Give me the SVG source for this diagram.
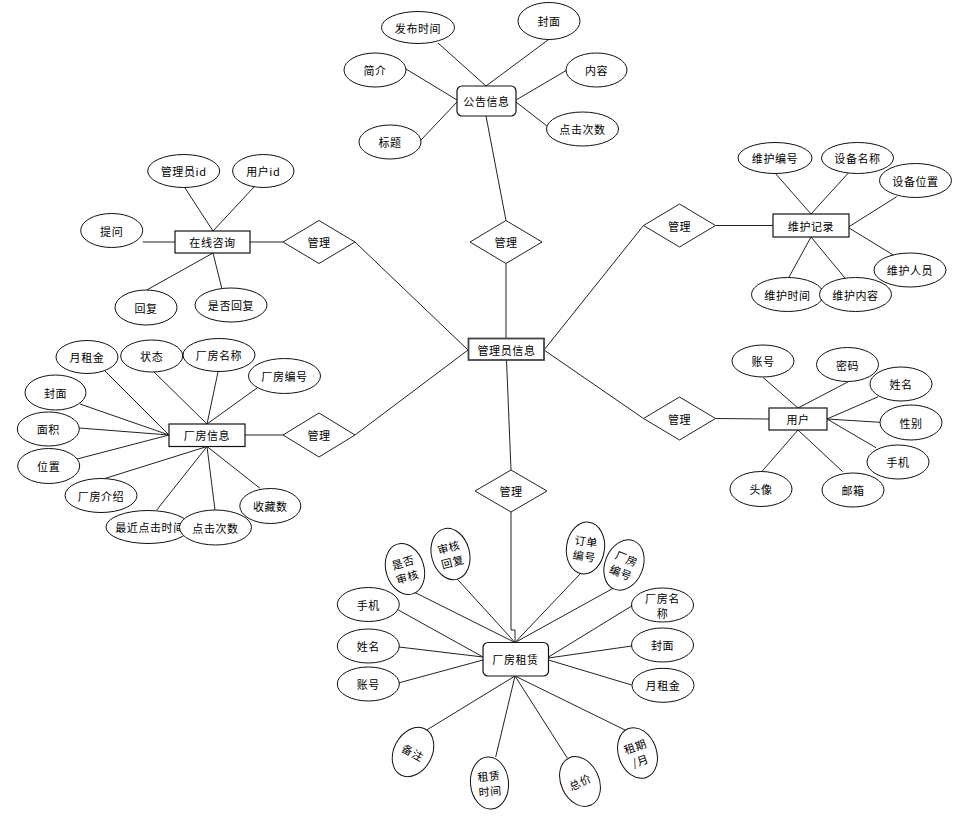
<svg xmlns="http://www.w3.org/2000/svg" width="962" height="826" viewBox="0 0 962 826">
<style>
.e{fill:#fff;stroke:#111;stroke-width:1}
.r{fill:#fff;stroke:#111;stroke-width:1.2}
.d{fill:#fff;stroke:#222;stroke-width:1}
.c{fill:none;stroke:#222;stroke-width:1}
.t{font-family:"Noto Sans CJK SC","Liberation Sans",sans-serif;font-size:11px;text-anchor:middle;dominant-baseline:central;letter-spacing:0.6px;fill:#000}
</style>
<rect width="962" height="826" fill="#fff"/>
<g id="connectors" class="c">
<!-- 公告信息 -->
<line x1="438" y1="43" x2="486" y2="86"/>
<line x1="548" y1="40" x2="486" y2="86"/>
<line x1="406" y1="69" x2="457" y2="100"/>
<line x1="567" y1="70" x2="516" y2="100"/>
<line x1="421" y1="140" x2="457" y2="102"/>
<line x1="547" y1="126" x2="516" y2="102"/>
<line x1="486" y1="116" x2="506" y2="220.5"/>
<line x1="506" y1="263.5" x2="506" y2="338"/>
<!-- 在线咨询 -->
<line x1="185" y1="188" x2="213" y2="231"/>
<line x1="254" y1="187" x2="213" y2="231"/>
<line x1="142.7" y1="242" x2="175" y2="242"/>
<line x1="146.7" y1="290" x2="213" y2="253"/>
<line x1="221.7" y1="288" x2="213" y2="253"/>
<line x1="250" y1="242" x2="283" y2="242"/>
<line x1="355" y1="242" x2="468" y2="350"/>
<!-- 厂房信息 -->
<line x1="103" y1="369" x2="169" y2="435"/>
<line x1="153" y1="371" x2="207" y2="424"/>
<line x1="218" y1="372" x2="207" y2="424"/>
<line x1="257" y1="388" x2="207" y2="424"/>
<line x1="80" y1="404" x2="169" y2="435"/>
<line x1="79.3" y1="428" x2="169" y2="435"/>
<line x1="73.3" y1="460" x2="169" y2="435"/>
<line x1="100" y1="480" x2="207" y2="446.5"/>
<line x1="156.7" y1="510" x2="207" y2="446.5"/>
<line x1="215" y1="510" x2="207" y2="446.5"/>
<line x1="260" y1="488.3" x2="207" y2="446.5"/>
<line x1="245" y1="435" x2="283" y2="435"/>
<line x1="355" y1="435" x2="468" y2="350"/>
<!-- 维护记录 -->
<line x1="775" y1="173" x2="811" y2="214"/>
<line x1="848.3" y1="173" x2="811" y2="214"/>
<line x1="896.7" y1="196.7" x2="849" y2="226.7"/>
<line x1="893.3" y1="255" x2="849" y2="228"/>
<line x1="788.3" y1="278.3" x2="811" y2="237"/>
<line x1="846" y1="279.3" x2="811" y2="237"/>
<line x1="715.5" y1="225.5" x2="773" y2="225.5"/>
<line x1="643.5" y1="225.5" x2="544" y2="350"/>
<!-- 用户 -->
<line x1="763.3" y1="377.7" x2="798" y2="408"/>
<line x1="848.3" y1="381.7" x2="798" y2="408"/>
<line x1="878.3" y1="396.7" x2="827" y2="419"/>
<line x1="880" y1="422.3" x2="827" y2="419"/>
<line x1="876" y1="447.7" x2="827" y2="419"/>
<line x1="761.7" y1="471.7" x2="798" y2="430"/>
<line x1="842.7" y1="471.7" x2="798" y2="430"/>
<line x1="715.5" y1="418.5" x2="769" y2="419"/>
<line x1="643.5" y1="418.5" x2="544" y2="350"/>
<!-- 厂房租赁 -->
<line x1="506.5" y1="360" x2="511" y2="470"/>
<polyline points="511,512 511,630 515,630 515,642.5"/>
<line x1="413.3" y1="591.7" x2="515" y2="642.5"/>
<line x1="456" y1="577.7" x2="515" y2="642.5"/>
<line x1="580.7" y1="573.3" x2="515" y2="642.5"/>
<line x1="616" y1="586.7" x2="515" y2="642.5"/>
<line x1="633.3" y1="605" x2="548.5" y2="657"/>
<line x1="631.7" y1="646" x2="548.5" y2="658"/>
<line x1="631.7" y1="685" x2="548.5" y2="660"/>
<line x1="398.3" y1="610" x2="483" y2="657"/>
<line x1="399" y1="647" x2="483" y2="657"/>
<line x1="398.3" y1="683" x2="483" y2="660"/>
<line x1="426.7" y1="730" x2="515" y2="676"/>
<line x1="495.7" y1="757" x2="515" y2="676"/>
<line x1="567.3" y1="758" x2="515" y2="676"/>
<line x1="625" y1="730" x2="515" y2="676"/>
</g>

<!-- 管理员信息 -->
<g id="admin">
<rect x="468.5" y="338.5" width="75.5" height="21.5" fill="#fff" stroke="#444" stroke-width="1.8"/>
<text class="t" x="506.5" y="349.5">管理员信息</text>
</g>

<!-- diamonds -->
<g id="rel-notice"><polygon class="d" points="470,242 506,220.5 542,242 506,263.5"/><text class="t" x="506" y="242">管理</text></g>
<g id="rel-consult"><polygon class="d" points="283,242 319,220.5 355,242 319,263.5"/><text class="t" x="319" y="242">管理</text></g>
<g id="rel-factory"><polygon class="d" points="283,435 319,413 355,435 319,457"/><text class="t" x="319" y="435">管理</text></g>
<g id="rel-rent"><polygon class="d" points="475,491 511,470 547,491 511,512"/><text class="t" x="511" y="491">管理</text></g>
<g id="rel-maint"><polygon class="d" points="643.5,225.5 679.5,204 715.5,225.5 679.5,247"/><text class="t" x="679.5" y="225.5">管理</text></g>
<g id="rel-user"><polygon class="d" points="643.5,418.5 679.5,397 715.5,418.5 679.5,440"/><text class="t" x="679.5" y="418.5">管理</text></g>

<!-- 公告信息 -->
<g id="notice"><rect class="r" x="457" y="86" width="59" height="30" rx="5"/><text class="t" x="486.5" y="101">公告信息</text></g>
<g id="notice-time"><ellipse class="e" cx="418" cy="27.5" rx="36.5" ry="16"/><text class="t" x="418" y="27.5">发布时间</text></g>
<g id="notice-cover"><ellipse class="e" cx="549" cy="21" rx="31" ry="18.5"/><text class="t" x="549" y="21">封面</text></g>
<g id="notice-intro"><ellipse class="e" cx="375" cy="70" rx="31" ry="17"/><text class="t" x="375" y="70">简介</text></g>
<g id="notice-content"><ellipse class="e" cx="596.5" cy="70" rx="30.5" ry="17"/><text class="t" x="596.5" y="70">内容</text></g>
<g id="notice-title"><ellipse class="e" cx="390" cy="142" rx="31" ry="17"/><text class="t" x="390" y="142">标题</text></g>
<g id="notice-clicks"><ellipse class="e" cx="582.5" cy="129" rx="36" ry="17"/><text class="t" x="582.5" y="129">点击次数</text></g>

<!-- 在线咨询 -->
<g id="consult"><rect class="r" x="175" y="231" width="75" height="22"/><text class="t" x="212.5" y="242">在线咨询</text></g>
<g id="consult-admin"><ellipse class="e" cx="183.7" cy="171" rx="36" ry="16.5"/><text class="t" x="183.7" y="171">管理员id</text></g>
<g id="consult-user"><ellipse class="e" cx="263.3" cy="171" rx="30.7" ry="16.5"/><text class="t" x="263.3" y="171">用户id</text></g>
<g id="consult-q"><ellipse class="e" cx="111.7" cy="230.5" rx="31" ry="17"/><text class="t" x="111.7" y="230.5">提问</text></g>
<g id="consult-a"><ellipse class="e" cx="146" cy="307.5" rx="31" ry="17.5"/><text class="t" x="146" y="307.5">回复</text></g>
<g id="consult-replied"><ellipse class="e" cx="231" cy="305" rx="36" ry="17"/><text class="t" x="231" y="305">是否回复</text></g>

<!-- 厂房信息 -->
<g id="factory"><rect class="r" x="169" y="424" width="76" height="22.5"/><text class="t" x="207" y="435">厂房信息</text></g>
<g id="f-rent"><ellipse class="e" cx="87" cy="357" rx="31" ry="16.5"/><text class="t" x="87" y="357">月租金</text></g>
<g id="f-status"><ellipse class="e" cx="151.7" cy="356" rx="31" ry="16"/><text class="t" x="151.7" y="356">状态</text></g>
<g id="f-name"><ellipse class="e" cx="219" cy="355" rx="36" ry="16.5"/><text class="t" x="219" y="355">厂房名称</text></g>
<g id="f-no"><ellipse class="e" cx="284.5" cy="376" rx="36" ry="17.5"/><text class="t" x="284.5" y="376">厂房编号</text></g>
<g id="f-cover"><ellipse class="e" cx="55.5" cy="392.5" rx="30.5" ry="17.5"/><text class="t" x="55.5" y="392.5">封面</text></g>
<g id="f-area"><ellipse class="e" cx="48.3" cy="429" rx="31" ry="17"/><text class="t" x="48.3" y="429">面积</text></g>
<g id="f-loc"><ellipse class="e" cx="48.7" cy="466" rx="31" ry="17.5"/><text class="t" x="48.7" y="466">位置</text></g>
<g id="f-desc"><ellipse class="e" cx="101" cy="495.5" rx="36" ry="17"/><text class="t" x="101" y="495.5">厂房介绍</text></g>
<g id="f-lastclick"><ellipse class="e" cx="148" cy="527" rx="42" ry="16.5"/><text class="t" x="150" y="527">最近点击时间</text></g>
<g id="f-clicks"><ellipse class="e" cx="215.5" cy="527.5" rx="36" ry="17.5"/><text class="t" x="215.5" y="527.5">点击次数</text></g>
<g id="f-fav"><ellipse class="e" cx="270.3" cy="506" rx="30.5" ry="17.5"/><text class="t" x="270.3" y="506">收藏数</text></g>

<!-- 维护记录 -->
<g id="maint"><rect class="r" x="773" y="214" width="76" height="23"/><text class="t" x="811" y="225.5">维护记录</text></g>
<g id="m-no"><ellipse class="e" cx="775" cy="158" rx="37" ry="15.5"/><text class="t" x="775" y="158">维护编号</text></g>
<g id="m-dev"><ellipse class="e" cx="857.5" cy="158" rx="36" ry="15.5"/><text class="t" x="857.5" y="158">设备名称</text></g>
<g id="m-loc"><ellipse class="e" cx="915.5" cy="180.5" rx="36" ry="17"/><text class="t" x="915.5" y="180.5">设备位置</text></g>
<g id="m-staff"><ellipse class="e" cx="910" cy="270" rx="36" ry="17"/><text class="t" x="910" y="270">维护人员</text></g>
<g id="m-time"><ellipse class="e" cx="787.5" cy="294.5" rx="36" ry="17"/><text class="t" x="787.5" y="294.5">维护时间</text></g>
<g id="m-content"><ellipse class="e" cx="855.5" cy="294.5" rx="36" ry="17"/><text class="t" x="855.5" y="294.5">维护内容</text></g>

<!-- 用户 -->
<g id="user"><rect class="r" x="769" y="408" width="58" height="22"/><text class="t" x="798" y="419">用户</text></g>
<g id="u-acc"><ellipse class="e" cx="763" cy="361" rx="31" ry="16"/><text class="t" x="763" y="361">账号</text></g>
<g id="u-pwd"><ellipse class="e" cx="847.5" cy="364.5" rx="31" ry="17"/><text class="t" x="847.5" y="364.5">密码</text></g>
<g id="u-name"><ellipse class="e" cx="901" cy="384" rx="31" ry="17"/><text class="t" x="901" y="384">姓名</text></g>
<g id="u-sex"><ellipse class="e" cx="911" cy="422.5" rx="31" ry="17.5"/><text class="t" x="911" y="422.5">性别</text></g>
<g id="u-phone"><ellipse class="e" cx="898" cy="462" rx="31" ry="17"/><text class="t" x="898" y="462">手机</text></g>
<g id="u-avatar"><ellipse class="e" cx="761" cy="489" rx="31" ry="17.5"/><text class="t" x="761" y="489">头像</text></g>
<g id="u-mail"><ellipse class="e" cx="853" cy="490" rx="31" ry="17"/><text class="t" x="853" y="490">邮箱</text></g>

<!-- 厂房租赁 -->
<g id="rent"><rect class="r" x="483" y="642.5" width="65.5" height="33.5" rx="5"/><text class="t" x="515.5" y="659">厂房租赁</text></g>
<g id="r-phone"><ellipse class="e" cx="368.3" cy="604.5" rx="31" ry="17"/><text class="t" x="368.3" y="604.5">手机</text></g>
<g id="r-name"><ellipse class="e" cx="368.3" cy="646" rx="31" ry="17"/><text class="t" x="368.3" y="646">姓名</text></g>
<g id="r-acc"><ellipse class="e" cx="368.3" cy="684" rx="31" ry="17"/><text class="t" x="368.3" y="684">账号</text></g>
<g id="r-fname"><ellipse class="e" cx="662.5" cy="605" rx="31" ry="17"/><text class="t" x="662.5" y="597.5" font-size="10.5px">厂房名</text><text class="t" x="662.5" y="612.5" font-size="10.5px">称</text></g>
<g id="r-cover"><ellipse class="e" cx="662.5" cy="645" rx="31" ry="17"/><text class="t" x="662.5" y="645">封面</text></g>
<g id="r-rent"><ellipse class="e" cx="663" cy="685.3" rx="31" ry="17"/><text class="t" x="663" y="685.3">月租金</text></g>
<g id="r-audit" transform="translate(405 569) rotate(-17)"><ellipse class="e" cx="0" cy="0" rx="19" ry="26"/><text class="t" x="0" y="-7.5">是否</text><text class="t" x="0" y="7.5">审核</text></g>
<g id="r-reply" transform="translate(450.5 554) rotate(-15)"><ellipse class="e" cx="0" cy="0" rx="19" ry="26"/><text class="t" x="0" y="-7.5">审核</text><text class="t" x="0" y="7.5">回复</text></g>
<g id="r-order" transform="translate(585.5 548) rotate(8)"><ellipse class="e" cx="0" cy="0" rx="19" ry="26"/><text class="t" x="0" y="-7.5">订单</text><text class="t" x="0" y="7.5">编号</text></g>
<g id="r-fno" transform="translate(624 565) rotate(22)"><ellipse class="e" cx="0" cy="0" rx="19" ry="26"/><text class="t" x="0" y="-7.5">厂房</text><text class="t" x="0" y="7.5">编号</text></g>
<g id="r-note" transform="translate(413 752) rotate(28)"><ellipse class="e" cx="0" cy="0" rx="19" ry="26"/><text class="t" x="0" y="0">备注</text></g>
<g id="r-time" transform="translate(489.5 783) rotate(-5)"><ellipse class="e" cx="0" cy="0" rx="19" ry="26"/><text class="t" x="0" y="-7.5">租赁</text><text class="t" x="0" y="7.5">时间</text></g>
<g id="r-total" transform="translate(580 781.5) rotate(-25)"><ellipse class="e" cx="0" cy="0" rx="19" ry="26"/><text class="t" x="0" y="0">总价</text></g>
<g id="r-period" transform="translate(637.5 753) rotate(-20)"><ellipse class="e" cx="0" cy="0" rx="19" ry="26"/><text class="t" x="0" y="-7.5">租期</text><text class="t" x="0" y="7.5">/月</text></g>
</svg>
